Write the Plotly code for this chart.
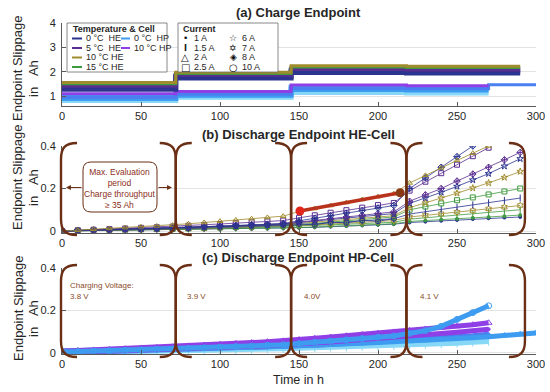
import plotly.graph_objects as go

# ---------------- data ----------------
x_ticks = [0, 50, 100, 150, 200, 250, 300]
phase_bounds = [0, 72, 145, 218]          # start of each charging-voltage period (h)
phase_close = [72, 145, 218, 293]         # end of each period (h)
charge_voltages = ["3.8 V", "3.9 V", "4.0V", "4.1 V"]

# (a) Charge endpoint: step levels per period (Ah)
a_t_he = [0, 72, 145, 218, 290]
a_t_hp = [0, 72, 145, 218, 270]
a_t_hp_long = [0, 72, 145, 218, 270, 300]
a_he10 = [1.55, 1.98, 2.24, 2.22, 2.22]
a_he15 = [1.50, 1.93, 2.19, 2.17, 2.17]
a_he5 = [1.42, 1.87, 2.11, 2.09, 2.09]
a_he0_hi = [1.36, 1.81, 2.05, 2.03, 2.03]
a_he0_lo = [1.28, 1.74, 1.97, 1.95, 1.95]
a_hp10 = [1.09, 1.19, 1.45, 1.42, 1.42]
a_hp0_hi = [0.98, 1.11, 1.36, 1.33, 1.33]
a_hp0_lo = [0.90, 1.03, 1.27, 1.25, 1.25]
a_hp0_cyan = [0.82, 0.95, 1.14, 1.12, 1.12]
a_hp0_long = [0.94, 1.07, 1.31, 1.30, 1.46, 1.46]

# (b) Discharge endpoint HE-cell (Ah), sampled every 10 h
t_b = [0, 10, 20, 30, 40, 50, 60, 70, 80, 90, 100, 110, 120, 130, 140,
       150, 160, 170, 180, 190, 200, 210, 220, 230, 240, 250, 260, 270, 280, 290]
b_he10_2A = [0.000, 0.004, 0.008, 0.012, 0.016, 0.020, 0.024, 0.028, 0.034, 0.040, 0.046, 0.052, 0.058, 0.064,
             0.070, 0.092, 0.106, 0.120, 0.134, 0.148, 0.162, 0.176, 0.226, 0.262, 0.297, 0.332, 0.366, 0.400]
b_he0_8A = [0.000, 0.002, 0.004, 0.006, 0.008, 0.010, 0.012, 0.014, 0.017, 0.020, 0.023, 0.026, 0.029, 0.032,
            0.035, 0.048, 0.060, 0.072, 0.084, 0.096, 0.108, 0.120, 0.200, 0.250, 0.300, 0.350, 0.400]
b_he5_25A = [0.000, 0.003, 0.006, 0.009, 0.012, 0.015, 0.018, 0.021, 0.025, 0.029, 0.033, 0.037, 0.041, 0.045,
             0.049, 0.062, 0.074, 0.086, 0.098, 0.110, 0.122, 0.132, 0.190, 0.232, 0.272, 0.312, 0.352, 0.392]
b_he5_8A = [0.000, 0.002, 0.004, 0.006, 0.008, 0.010, 0.012, 0.014, 0.016, 0.019, 0.022, 0.025, 0.028, 0.031,
            0.034, 0.042, 0.050, 0.058, 0.066, 0.074, 0.082, 0.090, 0.140, 0.170, 0.200, 0.235, 0.268, 0.300, 0.335, 0.370]
b_he0_6A = [0.000, 0.002, 0.003, 0.005, 0.007, 0.009, 0.011, 0.013, 0.015, 0.018, 0.021, 0.024, 0.027, 0.030,
            0.033, 0.040, 0.047, 0.054, 0.061, 0.068, 0.075, 0.082, 0.130, 0.155, 0.182, 0.210, 0.240, 0.270, 0.305, 0.340]
b_he10_6A = [0.000, 0.002, 0.003, 0.004, 0.006, 0.008, 0.010, 0.012, 0.014, 0.016, 0.019, 0.022, 0.025, 0.028,
             0.031, 0.036, 0.042, 0.048, 0.054, 0.060, 0.066, 0.072, 0.110, 0.132, 0.155, 0.178, 0.202, 0.226, 0.252, 0.280]
b_he15_25A = [0.000, 0.002, 0.003, 0.004, 0.005, 0.007, 0.009, 0.011, 0.013, 0.015, 0.017, 0.019, 0.021, 0.023,
              0.025, 0.030, 0.036, 0.042, 0.048, 0.054, 0.060, 0.066, 0.100, 0.115, 0.130, 0.145, 0.158, 0.172, 0.186, 0.200]
b_he0_15A = [0.000, 0.001, 0.002, 0.003, 0.004, 0.006, 0.008, 0.010, 0.012, 0.014, 0.016, 0.018, 0.020, 0.022,
             0.024, 0.028, 0.033, 0.038, 0.043, 0.048, 0.053, 0.058, 0.080, 0.091, 0.102, 0.113, 0.123, 0.133, 0.144, 0.155]
b_he10_7A = [0.000, 0.001, 0.002, 0.003, 0.004, 0.005, 0.006, 0.008, 0.010, 0.012, 0.014, 0.016, 0.018, 0.020,
             0.022, 0.025, 0.029, 0.033, 0.037, 0.041, 0.045, 0.049, 0.066, 0.074, 0.081, 0.089, 0.096, 0.104, 0.112, 0.120]
b_he15_15A = [0.000, 0.001, 0.002, 0.003, 0.004, 0.005, 0.006, 0.007, 0.008, 0.010, 0.012, 0.014, 0.016, 0.018,
              0.020, 0.023, 0.026, 0.029, 0.032, 0.035, 0.038, 0.041, 0.056, 0.062, 0.069, 0.075, 0.081, 0.087, 0.093, 0.100]
b_he15_1A = [0.000, 0.001, 0.001, 0.002, 0.003, 0.004, 0.005, 0.006, 0.007, 0.008, 0.009, 0.010, 0.011, 0.012,
             0.013, 0.016, 0.019, 0.022, 0.025, 0.028, 0.031, 0.034, 0.045, 0.050, 0.054, 0.058, 0.062, 0.066, 0.070, 0.075]
b_he0_1A = [0.000, 0.001, 0.001, 0.002, 0.002, 0.003, 0.004, 0.005, 0.006, 0.007, 0.008, 0.009, 0.010, 0.011,
            0.012, 0.014, 0.017, 0.020, 0.023, 0.026, 0.029, 0.032, 0.040, 0.044, 0.048, 0.052, 0.056, 0.060, 0.063, 0.066]
b_he0_10A = [0.000, 0.002, 0.004, 0.006, 0.008, 0.010, 0.012, 0.014, 0.016, 0.018, 0.020, 0.022, 0.024, 0.026,
             0.028, 0.034, 0.030, 0.042, 0.038, 0.050, 0.046, 0.058]
red_t = [150.6, 214]
red_v = [0.094, 0.180]

# (c) Discharge endpoint HP-cell (Ah), sampled every 10 h
t_c = [0, 10, 20, 30, 40, 50, 60, 70, 80, 90, 100, 110, 120, 130, 140, 150,
       160, 170, 180, 190, 200, 210, 220, 230, 240, 250, 260, 270, 280, 290, 300]
c_hp0_10A = [0.004, 0.006, 0.008, 0.010, 0.012, 0.014, 0.016, 0.018, 0.021, 0.024, 0.027, 0.030, 0.033, 0.036,
             0.039, 0.044, 0.050, 0.056, 0.062, 0.068, 0.074, 0.080, 0.092, 0.105, 0.125, 0.158, 0.190, 0.222]
c_hp10_2A = [0.008, 0.011, 0.014, 0.017, 0.020, 0.023, 0.026, 0.029, 0.033, 0.037, 0.041, 0.045, 0.049, 0.053,
             0.057, 0.063, 0.069, 0.075, 0.081, 0.087, 0.093, 0.099, 0.106, 0.113, 0.119, 0.126, 0.133, 0.142]
c_hp10_1A = [0.002, 0.004, 0.006, 0.008, 0.010, 0.012, 0.014, 0.016, 0.019, 0.022, 0.025, 0.028, 0.031, 0.034,
             0.037, 0.042, 0.047, 0.052, 0.057, 0.062, 0.067, 0.072, 0.078, 0.084, 0.090, 0.097, 0.104, 0.112]
c_hp0_2A = [0.010, 0.011, 0.012, 0.013, 0.014, 0.015, 0.016, 0.017, 0.019, 0.021, 0.023, 0.025, 0.027, 0.029,
            0.031, 0.034, 0.037, 0.040, 0.043, 0.046, 0.049, 0.052, 0.056, 0.060, 0.064, 0.068, 0.072, 0.076,
            0.082, 0.088, 0.094]
c_hp0_1A = [0.000, 0.002, 0.004, 0.006, 0.008, 0.010, 0.012, 0.014, 0.016, 0.018, 0.020, 0.022, 0.024, 0.026,
            0.028, 0.032, 0.036, 0.040, 0.044, 0.048, 0.052, 0.056, 0.061, 0.066, 0.071, 0.076, 0.081, 0.088]
c_hp0_15A = [0.000, 0.001, 0.002, 0.003, 0.004, 0.005, 0.006, 0.007, 0.008, 0.010, 0.012, 0.014, 0.016, 0.018,
             0.020, 0.022, 0.024, 0.026, 0.028, 0.030, 0.032, 0.034, 0.037, 0.040, 0.043, 0.046, 0.050, 0.054]

temp_labels_he = ["0 °C\u00a0\u00a0HE", "5 °C\u00a0\u00a0HE", "10 °C HE", "15 °C HE"]
temp_labels_hp = ["0 °C\u00a0\u00a0HP", "10 °C HP"]
current_labels_1 = ["1 A", "1.5 A", "2 A", "2.5 A"]
current_labels_2 = ["6 A", "7 A", "8 A", "10 A"]

# ---------------- styles ----------------
W, H = 550, 392
X0, X1 = 62, 536
FONT = "Liberation Sans, Arial, sans-serif"
TXT = "#262626"
BR = "#6a2f14"
C_HE0, C_HE5, C_HE10, C_HE15 = "#2b3590", "#5a2d91", "#a08c2c", "#3f9a3f"
C_HP0, C_HP10, C_HP0B, C_HPC = "#3d9cf0", "#8e3fe6", "#4a7ff0", "#86d8f6"
SYM = {"1 A": "circle", "1.5 A": "line-ns-open", "2 A": "triangle-up-open", "2.5 A": "square-open",
       "6 A": "star-open", "7 A": "hexagram-open", "8 A": "diamond-cross-open", "10 A": "circle-open"}


def px(x):
    return x / W


def py(y):
    return 1 - y / H


def hx(h):
    return X0 + (X1 - X0) * h / 300


fig = go.Figure()


def step_line(t, v, color, width=5):
    fig.add_trace(go.Scatter(x=t, y=v, mode="lines", line=dict(color=color, width=width, shape="hv"),
                             xaxis="x", yaxis="y", hoverinfo="skip"))


# panel a
step_line(a_t_hp, a_hp0_cyan, C_HPC)
step_line(a_t_hp, a_hp0_lo, C_HP0)
step_line(a_t_hp, a_hp0_hi, C_HP0)
step_line(a_t_hp_long, a_hp0_long, C_HP0B, 3)
step_line(a_t_hp, a_hp10, C_HP10, 3)
step_line(a_t_he, a_he0_lo, C_HE0)
step_line(a_t_he, a_he0_hi, C_HE0)
step_line(a_t_he, a_he5, C_HE5, 4)
step_line(a_t_he, a_he15, C_HE15, 3)
step_line(a_t_he, a_he10, C_HE10, 3)


def series(t, v, color, cur, xa, ya, lw=0.8, ms=5):
    n = len(v)
    size = 3 if cur == "1 A" else ms
    fig.add_trace(go.Scatter(x=t[:n], y=v, mode="lines+markers", line=dict(color=color, width=lw),
                             marker=dict(symbol=SYM[cur], size=size, color=color, line=dict(color=color, width=1)),
                             xaxis=xa, yaxis=ya, hoverinfo="skip"))


# panel b
for v, col, cur in [(b_he0_1A, C_HE0, "1 A"), (b_he15_1A, C_HE15, "1 A"), (b_he15_15A, C_HE15, "1.5 A"),
                    (b_he10_7A, C_HE10, "7 A"), (b_he0_15A, C_HE0, "1.5 A"), (b_he15_25A, C_HE15, "2.5 A"),
                    (b_he10_6A, C_HE10, "6 A"), (b_he0_6A, C_HE0, "6 A"), (b_he5_8A, C_HE5, "8 A"),
                    (b_he0_10A, C_HE0, "10 A"), (b_he5_25A, C_HE5, "2.5 A"), (b_he0_8A, C_HE0, "8 A"),
                    (b_he10_2A, C_HE10, "2 A")]:
    series(t_b, v, col, cur, "x2", "y2")
fig.add_trace(go.Scatter(x=red_t, y=red_v, mode="lines+markers", line=dict(color="#b8321c", width=3.5),
                         marker=dict(size=9, color=["#e3261c", "#8a3a12"]), xaxis="x2", yaxis="y2",
                         hoverinfo="skip"))

# panel c
for v, col, cur in [(c_hp0_15A, C_HPC, "1.5 A"), (c_hp0_1A, C_HP0B, "1 A"), (c_hp0_2A, C_HP0, "2 A"),
                    (c_hp10_1A, C_HP10, "1 A"), (c_hp10_2A, C_HP10, "2 A"), (c_hp0_10A, C_HP0, "10 A")]:
    series(t_c, v, col, cur, "x3", "y3", lw=5, ms=6)

# ---------------- axes ----------------
dom_x = [px(X0), px(X1)]
common = dict(showline=True, linecolor="#5a5a5a", linewidth=1, ticks="inside", ticklen=4, tickcolor="#5a5a5a",
              tickfont=dict(family=FONT, size=11, color=TXT), zeroline=False, automargin=False)
xc = dict(range=[0, 300], tickvals=x_ticks, showgrid=False, **common)
yc = dict(showgrid=True, gridcolor="#e3e3e3", gridwidth=1, ticklabelstandoff=3, **common)
y_small = dict(tickvals=[0, 0.2, 0.4], ticktext=["0", "0.2", "0.4"])

fig.update_layout(
    width=W, height=H, template="none", showlegend=False,
    margin=dict(l=0, r=0, t=0, b=0), paper_bgcolor="white", plot_bgcolor="white",
    xaxis=dict(domain=dom_x, anchor="y", **xc),
    yaxis=dict(domain=[py(105.5), py(23)], anchor="x", range=[0.61, 4], tickvals=[1, 2, 3, 4], **yc),
    xaxis2=dict(domain=dom_x, anchor="y2", **xc),
    yaxis2=dict(domain=[py(232.5), py(146)], anchor="x2", range=[-0.007, 0.4], **y_small, **yc),
    xaxis3=dict(domain=dom_x, anchor="y3", **xc),
    yaxis3=dict(domain=[py(354), py(268)], anchor="x3", range=[-0.005, 0.4], **y_small, **yc),
)

shapes = []
ann = []


def text(x, y, s, size=11, color=TXT, bold=False, xanchor="center", family=FONT, angle=0):
    ann.append(dict(x=px(x), y=py(y), xref="paper", yref="paper", text=f"<b>{s}</b>" if bold else s,
                    showarrow=False, xanchor=xanchor, yanchor="middle", textangle=angle,
                    font=dict(family=family, size=size, color=color)))


# titles
text(298, 12, "(a) Charge Endpoint", 13, bold=True)
text(298, 134, "(b) Discharge Endpoint HE-Cell", 13, bold=True)
text(298, 257, "(c) Discharge Endpoint HP-Cell", 13, bold=True)
text(298, 380, "Time in h", 12.5)
for yc_ in [68, 177, 308]:
    text(18, yc_, "Endpoint Slippage", 13, angle=-90)
    text(33, yc_ + 11, "in\u00a0\u00a0\u00a0Ah", 13, angle=-90)


# brackets
def paren(xv, top, bot, side):
    a = 16 * side
    path = (f"M {px(xv + a)},{py(top)} C {px(xv + a * 0.25)},{py(top)} {px(xv)},{py(top + 5)} {px(xv)},{py(top + 16)} "
            f"L {px(xv)},{py(bot - 16)} C {px(xv)},{py(bot - 5)} {px(xv + a * 0.25)},{py(bot)} {px(xv + a)},{py(bot)}")
    shapes.append(dict(type="path", path=path, xref="paper", yref="paper", line=dict(color=BR, width=2.4),
                       layer="above"))


for top, bot in [(143, 235), (265, 357)]:
    for i, b in enumerate(phase_bounds):
        paren(hx(b) - (1 if i == 0 else 0), top, bot, 1)
    for b in phase_close:
        paren(hx(b), top, bot, -1)

# evaluation-period box in (b)
bx0, by0, bx1, by1, r = 83, 162, 157, 212, 8
box_path = (f"M {px(bx0 + r)},{py(by0)} L {px(bx1 - r)},{py(by0)} Q {px(bx1)},{py(by0)} {px(bx1)},{py(by0 + r)} "
            f"L {px(bx1)},{py(by1 - r)} Q {px(bx1)},{py(by1)} {px(bx1 - r)},{py(by1)} "
            f"L {px(bx0 + r)},{py(by1)} Q {px(bx0)},{py(by1)} {px(bx0)},{py(by1 - r)} "
            f"L {px(bx0)},{py(by0 + r)} Q {px(bx0)},{py(by0)} {px(bx0 + r)},{py(by0)} Z")
shapes.append(dict(type="path", path=box_path, xref="paper", yref="paper", line=dict(color=BR, width=1),
                   fillcolor="white", layer="above"))
ann.append(dict(x=px(120), y=py(188), xref="paper", yref="paper", showarrow=False,
                xanchor="center", yanchor="middle",
                text="Max. Evaluation<br>period<br>Charge throughput<br>≥ 35 Ah",
                font=dict(family=FONT, size=8.5, color="#8b2f22"), align="center"))
for tip, dx in [(66, 17), (172, -15)]:
    ann.append(dict(x=px(tip), y=py(187.5), xref="paper", yref="paper", ax=dx, ay=0, text="",
                    showarrow=True, arrowhead=2, arrowsize=0.9, arrowwidth=1.1, arrowcolor=BR))

# charging voltages in (c)
text(hx(phase_bounds[0]) + 6, 285, "Charging Voltage:", 8, color="#8a4b2a", xanchor="left")
for b, s, off in zip(phase_bounds, charge_voltages, [6, 9, 11, 12]):
    text(hx(b) + off, 296.5, s, 8, color="#8a4b2a", xanchor="left")

# legend 1 : Temperature & Cell
shapes.append(dict(type="rect", x0=px(67), x1=px(167), y0=py(72), y1=py(23), xref="paper", yref="paper",
                   line=dict(color="#6b6b6b", width=0.8), fillcolor="white", layer="above"))
text(71, 29.5, "Temperature & Cell", 9, bold=True, xanchor="left")
rows = [38.5, 48, 57.5, 67]
for yy, lab, col in zip(rows, temp_labels_he, [C_HE0, C_HE5, C_HE10, C_HE15]):
    shapes.append(dict(type="line", x0=px(72), x1=px(82), y0=py(yy), y1=py(yy), xref="paper", yref="paper",
                       line=dict(color=col, width=2), layer="above"))
    text(84, yy, lab, 9, xanchor="left")
for yy, lab, col in zip(rows, temp_labels_hp, [C_HP0, C_HP10]):
    shapes.append(dict(type="line", x0=px(121), x1=px(130), y0=py(yy), y1=py(yy), xref="paper", yref="paper",
                       line=dict(color=col, width=2), layer="above"))
    text(132, yy, lab, 9, xanchor="left")

# legend 2 : Current
shapes.append(dict(type="rect", x0=px(178), x1=px(278), y0=py(72), y1=py(23), xref="paper", yref="paper",
                   line=dict(color="#6b6b6b", width=0.8), fillcolor="white", layer="above"))
text(181, 29.5, "Current", 9, bold=True, xanchor="left")
glyph1 = ["•", "I", "△", "□"]
glyph2 = ["☆", "✡", "◈", "○"]
gsize1 = [9, 8, 10, 10]
gsize2 = [9, 9, 9, 10]
for yy, g, gs, lab in zip(rows, glyph1, gsize1, current_labels_1):
    text(185, yy, g, gs, color="#111111", family="DejaVu Sans", bold=(g == "I"))
    text(192, yy, lab, 9, xanchor="left")
for yy, g, gs, lab in zip(rows, glyph2, gsize2, current_labels_2):
    text(233, yy, g, gs, color="#111111", family="DejaVu Sans", bold=True)
    text(240, yy, lab, 9, xanchor="left")

fig.update_layout(shapes=shapes, annotations=ann)
fig.write_html("out.html", config={"displayModeBar": False},
               post_script="document.body.style.margin='0';document.body.style.overflow='hidden';")
